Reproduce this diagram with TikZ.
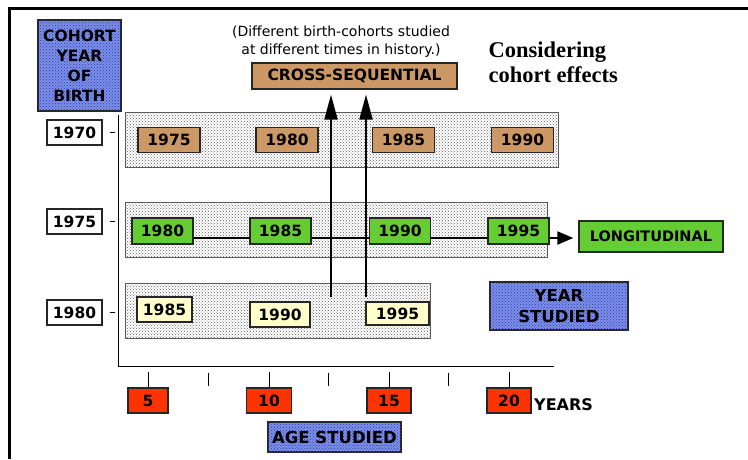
\documentclass[tikz,border=0pt]{standalone}
\usepackage{fontspec}
\setmainfont{Liberation Serif}
\newfontfamily\labelfont{DejaVu Sans}
\usetikzlibrary{arrows.meta,patterns,calc}
\definecolor{tan}{RGB}{204,153,102}
\definecolor{leaf}{RGB}{102,204,51}
\definecolor{cream}{RGB}{255,255,204}
\definecolor{flame}{RGB}{255,51,0}
\definecolor{periwinkle}{RGB}{122,142,234}
\definecolor{inkblue}{RGB}{50,60,160}
\begin{document}
\begin{tikzpicture}[x=1pt,y=-1pt,
  lbl/.style={font=\labelfont\bfseries\fontsize{15.5}{20}\selectfont},
  biglbl/.style={font=\labelfont\bfseries\fontsize{16.5}{21}\selectfont},
  box/.style={draw=black!85, line width=1.3pt, inner sep=0pt, lbl},
  yearlabel/.style={box, fill=white, minimum width=55pt, minimum height=25pt},
  tanbox/.style={box, fill=tan, minimum width=62pt, minimum height=25pt},
  leafbox/.style={box, fill=leaf, minimum width=61pt, minimum height=26pt},
  creambox/.style={box, fill=cream, minimum height=25pt},
  agebox/.style={box, fill=flame, minimum height=25pt},
  bluebox/.style={box, fill=periwinkle, align=center,
    postaction={pattern=crosshatch dots, pattern color=inkblue}},
  band/.style={draw=black!65, line width=0.8pt, fill=white, minimum height=55pt,
    inner sep=0pt, postaction={pattern=crosshatch dots, pattern color=black!62}},
  rise/.style={line width=2pt, -{Triangle[width=13pt,length=25pt]}, shorten >=5pt},
  tick/.style={line width=0.9pt},
]
\useasboundingbox (0,0) rectangle (748,459);

% frame
\draw[line width=3pt] (9,459) -- (9,8) -- (748,8);

% header texts
\node[font=\labelfont\fontsize{14}{18}\selectfont, align=center] (note) at (341,42)
  {(Different birth-cohorts studied\\at different times in history.)};
\node[font=\bfseries\fontsize{22.5}{25}\selectfont, align=left, anchor=west] (title) at (485,62)
  {Considering\\cohort effects};

% birth-year axis
\node[bluebox, minimum width=83pt, minimum height=91pt] (cohort) at (79.5,65.5)
  {COHORT\\YEAR\\OF\\BIRTH};
\node[yearlabel] (b70) at (74.5,132.5) {1970};
\node[yearlabel] (b75) at (74.5,221.5) {1975};
\node[yearlabel] (b80) at (74.5,312.5) {1980};
\foreach \b in {b70,b75,b80}
  \draw[tick] ([xshift=7pt]\b.east) -- ([xshift=12pt]\b.east);
\draw[line width=1pt] (118,115) -- (118,366) -- (554,366);

% cohort bands
\node[band, minimum width=433pt] (row1) at (341.5,139.5) {};
\node[band, minimum width=422pt] (row2) at (336,229.5) {};
\node[band, minimum width=305pt] (row3) at (277.5,310.5) {};

% cross-sequential arrows
\node[box, fill=tan, minimum width=205pt, minimum height=26pt] (cross) at (354.5,76) {CROSS-SEQUENTIAL};
\coordinate (upA) at (331,297);
\coordinate (upB) at (366,297);
\draw[rise] (upA) -- (upA |- cross.south);
\draw[rise] (upB) -- (upB |- cross.south);

% longitudinal arrow
\node[box, fill=leaf, minimum width=144pt, minimum height=31pt, font=\labelfont\bfseries\fontsize{14.5}{16}\selectfont] (long) at (651,236.5) {LONGITUDINAL};
\node[leafbox] (g80) at (162.5,231) {1980};
\coordinate (lstart) at ([yshift=-7pt]g80.east);
\draw[line width=2pt, -{Triangle[width=13pt,length=16pt]}, shorten >=5pt] (lstart) -- (lstart -| long.west);

% cohort 1970
\node[tanbox] (t75) at (169,140) {1975};
\node[tanbox] (t80) at (287,140) {1980};
\node[tanbox] (t85) at (403.5,140) {1985};
\node[tanbox] (t90) at (522.5,140) {1990};

% cohort 1975
\node[leafbox] (g85) at (280.5,231) {1985};
\node[leafbox] (g90) at (400,231) {1990};
\node[leafbox] (g95) at (518.5,231) {1995};

% cohort 1980
\node[creambox, minimum width=55pt] (c85) at (164.5,309.5) {1985};
\node[creambox, minimum width=60pt] (c90) at (280,314.5) {1990};
\node[creambox, minimum width=63pt, minimum height=23pt] (c95) at (397.5,313.5) {1995};

\node[bluebox, biglbl, minimum width=138pt, minimum height=48pt] (ys) at (559,306) {YEAR\\STUDIED};

% age axis
\node[agebox, minimum width=40pt] (a5) at (148,400.5) {5};
\node[agebox, minimum width=45pt] (a10) at (269,400.5) {10};
\node[agebox, minimum width=44pt] (a15) at (389,400.5) {15};
\node[agebox, minimum width=44pt] (a20) at (509,400.5) {20};
\node[biglbl, font=\labelfont\bfseries\fontsize{16}{20}\selectfont, anchor=west, inner sep=0pt] (years) at (534,405) {YEARS};
\foreach \a in {a5,a10,a15,a20}
  \draw[tick] (\a.north) -- ++(0,-15);
\foreach \x in {208,328,448}
  \draw[tick] (\x,373) -- (\x,386);
\node[bluebox, biglbl, minimum width=133pt, minimum height=30pt] (age) at (334.5,437) {AGE STUDIED};
\end{tikzpicture}
\end{document}
